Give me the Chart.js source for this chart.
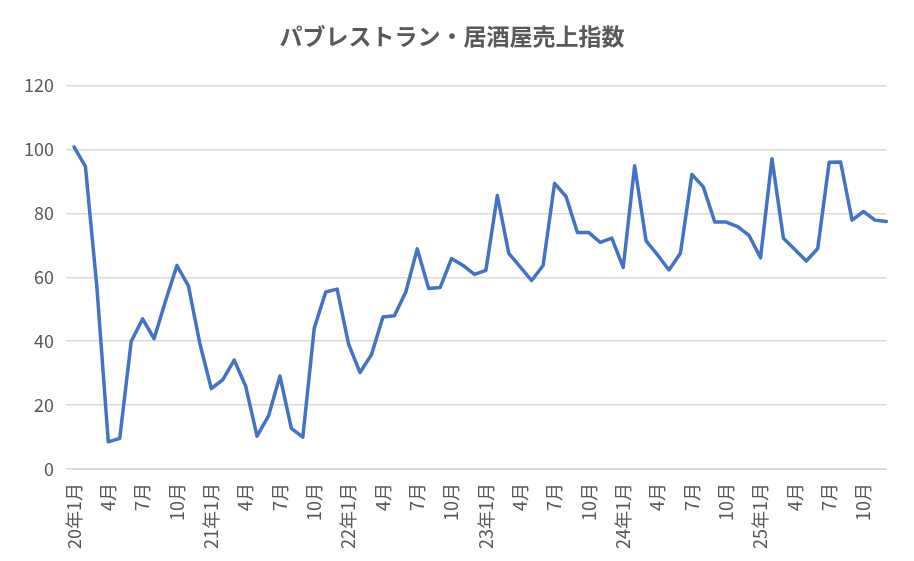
<!DOCTYPE html>
<html>
<head>
<meta charset="utf-8">
<script src="https://cdn.jsdelivr.net/npm/chart.js@4"></script>
<style>
  html, body { margin: 0; padding: 0; background: #fff; }
  #wrap { width: 914px; height: 561px; }
</style>
</head>
<body>
<div id="wrap"><canvas id="c"></canvas></div>
<script>
// months Jan 2020 - Dec 2025
const years = ['20', '21', '22', '23', '24', '25'];
const labels = [];
years.forEach(y => { for (let m = 1; m <= 12; m++) labels.push(m === 1 ? y + '年1月' : m + '月'); });

const salesIndex = [
  100.8, 94.7, 57, 8.5, 9.6, 39.9, 47, 40.8, 52.6, 63.7, 57.3, 39.3,
  25.2, 27.9, 34.1, 26, 10.3, 16.6, 29.1, 12.7, 10, 44.1, 55.4, 56.3,
  39.1, 30.2, 35.8, 47.6, 48, 55.4, 68.9, 56.5, 56.8, 65.9, 63.7, 60.9,
  62.2, 85.6, 67.5, 63.3, 59, 63.7, 89.4, 85.3, 74, 74, 70.9, 72.3,
  63.1, 94.9, 71.4, 67, 62.3, 67.5, 92.2, 88.3, 77.3, 77.3, 75.9, 73.1,
  66.1, 97.1, 72.2, 68.7, 65.1, 69, 96, 96.1, 77.9, 80.6, 77.9, 77.5
];
const yTicks = [0, 20, 40, 60, 80, 100, 120];

const grey = '#595959';
const jp = '"Noto Sans CJK JP", "Noto Sans", sans-serif';

new Chart(document.getElementById('c'), {
  type: 'line',
  data: {
    labels: labels,
    datasets: [{
      data: salesIndex,
      borderColor: '#4472C4',
      borderWidth: 3.5,
      borderJoinStyle: 'round',
      borderCapStyle: 'round',
      pointRadius: 0,
      tension: 0,
      fill: false
    }]
  },
  options: {
    responsive: true,
    maintainAspectRatio: false,
    animation: false,
    layout: { padding: { left: 12, right: 22, top: 22, bottom: 6 } },
    plugins: {
      legend: { display: false },
      tooltip: { enabled: false },
      title: {
        display: true,
        text: 'パブレストラン・居酒屋売上指数',
        color: grey,
        font: { family: jp, size: 23, weight: 'bold' },
        padding: { top: 0, bottom: 36 }
      }
    },
    scales: {
      x: {
        offset: false,
        grid: { display: false },
        border: { color: '#d9d9d9' },
        ticks: {
          autoSkip: false,
          maxRotation: 90,
          minRotation: 90,
          color: grey,
          padding: 6,
          font: { family: jp, size: 18 },
          callback: function (v, i) { return i % 3 === 0 ? labels[i] : ''; }
        }
      },
      y: {
        min: 0,
        max: 120,
        afterBuildTicks: axis => { axis.ticks = yTicks.map(v => ({ value: v })); },
        grid: { color: '#d9d9d9', lineWidth: 1.5 },
        border: { display: false },
        ticks: {
          color: grey,
          padding: 12,
          font: { family: jp, size: 18 }
        }
      }
    }
  }
});
</script>
</body>
</html>
